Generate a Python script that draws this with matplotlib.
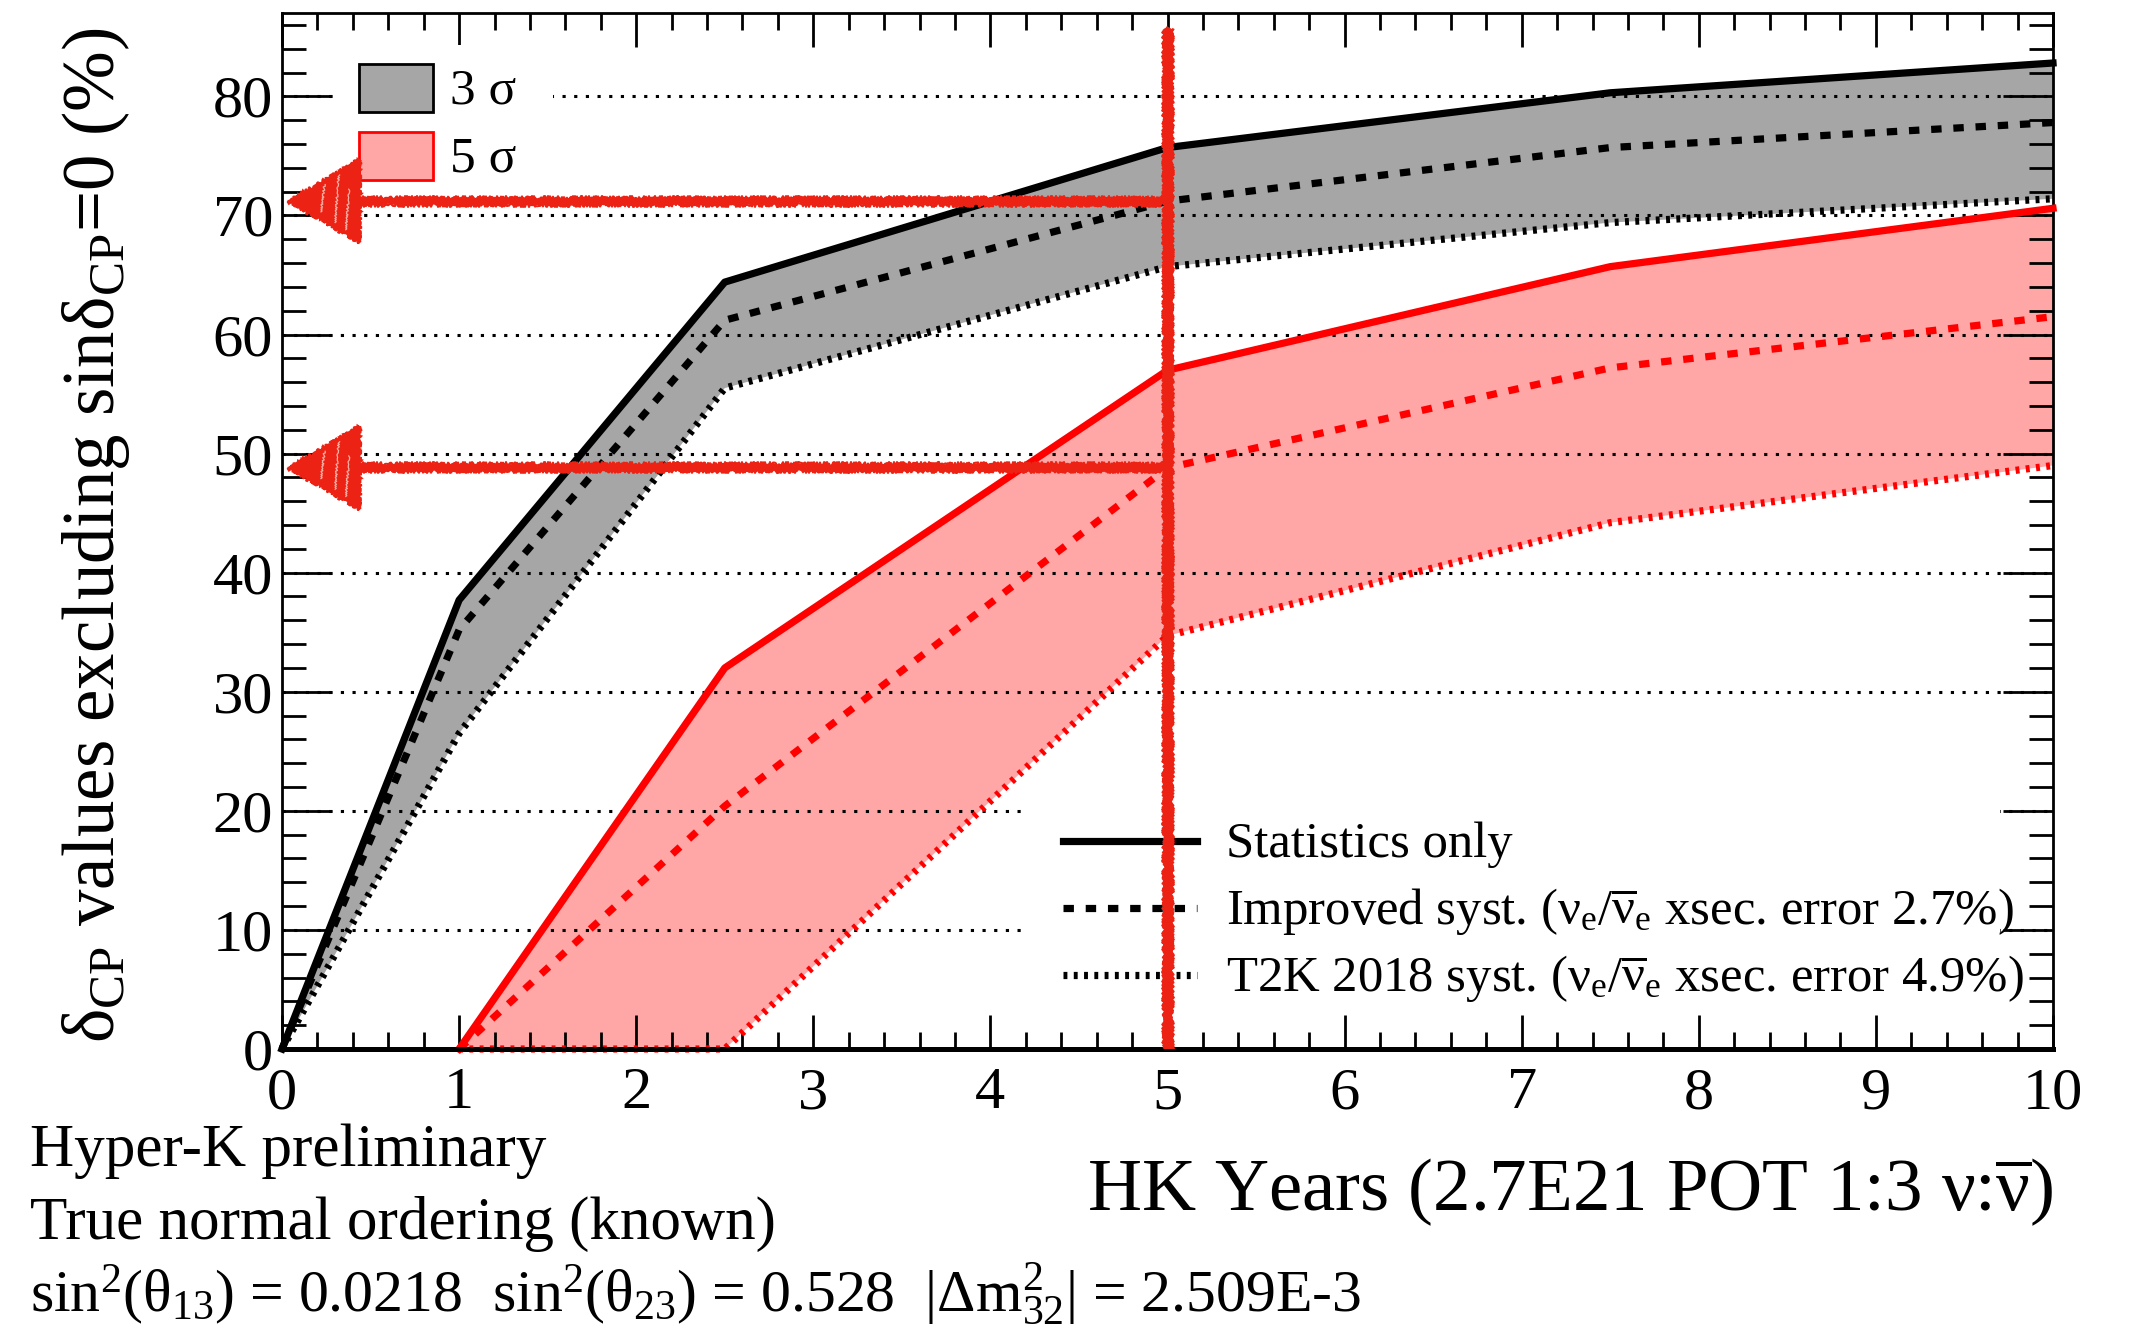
import matplotlib
matplotlib.use('Agg')
import matplotlib.pyplot as plt
from matplotlib.patches import Rectangle, Polygon
from matplotlib.ticker import MultipleLocator

plt.rcParams['font.family'] = ['Liberation Serif', 'DejaVu Serif']
plt.rcParams['mathtext.fontset'] = 'custom'
plt.rcParams['mathtext.rm'] = 'Liberation Serif'
plt.rcParams['mathtext.it'] = 'Liberation Serif:italic'
plt.rcParams['mathtext.bf'] = 'Liberation Serif:bold'
plt.rcParams['lines.scale_dashes'] = False

# HK running time (years) and fraction of dCP values excluding sin(dCP)=0 (%)
years = [0, 1, 2.5, 5, 7.5, 10]
stat_3s = [0, 37.7, 64.4, 75.7, 80.3, 82.8]
impr_3s = [0, 35.2, 61.2, 71.2, 75.7, 77.8]
t2k_3s = [0, 26.5, 55.5, 65.7, 69.4, 71.4]

# 5 sigma: nothing excluded during the first year
years_5s = [1, 2.5, 5, 7.5, 10]
stat_5s = [0, 32.0, 57.0, 65.7, 70.6]
impr_5s = [0, 20.4, 48.8, 57.2, 61.5]
t2k_5s = [0, 0, 34.7, 44.2, 49.0]

syst_labels = ['Statistics only',
               r'Improved syst. (ν$_{\mathrm{e}}$/$\overline{\mathrm{ν}}_{\mathrm{e}}$ xsec. error 2.7%)',
               r'T2K 2018 syst. (ν$_{\mathrm{e}}$/$\overline{\mathrm{ν}}_{\mathrm{e}}$ xsec. error 4.9%)']

FW, FH = 2137, 1331
AX_L, AX_R, AX_T, AX_B = 282, 2053, 13, 1049

GREY = '#a6a6a6'
PINK = '#ffa6a6'
ARROW = '#ec2214'
LW = 5.2
SOLID = '-'
DASHED = (0, (7.5, 8.5))
DOTTED = (0, (2.8, 4.6))


def to_ax(px, py):
    return (px - AX_L) / (AX_R - AX_L), (AX_B - py) / (AX_B - AX_T)


fig = plt.figure(figsize=(FW / 100, FH / 100), dpi=100)
ax = fig.add_axes([AX_L / FW, 1 - AX_B / FH, (AX_R - AX_L) / FW, (AX_B - AX_T) / FH])

# bands between stat-only and T2K-2018 systematics
ax.fill_between(years, t2k_3s, stat_3s, facecolor=GREY, lw=0, zorder=1)
ax.fill_between(years_5s, t2k_5s, stat_5s, facecolor=PINK, lw=0, zorder=1)

for xs, ys, col, ls in [(years, stat_3s, 'k', SOLID), (years, impr_3s, 'k', DASHED),
                        (years, t2k_3s, 'k', DOTTED), (years_5s, stat_5s, 'red', SOLID),
                        (years_5s, impr_5s, 'red', DASHED), (years_5s, t2k_5s, 'red', DOTTED)]:
    ax.plot(xs, ys, color=col, lw=LW, linestyle=ls, zorder=3, clip_on=False)

ax.set_xlim(0, 10)
ax.set_ylim(0, 87)
ax.xaxis.set_major_locator(MultipleLocator(1))
ax.xaxis.set_minor_locator(MultipleLocator(0.2))
ax.yaxis.set_major_locator(MultipleLocator(10))
ax.yaxis.set_minor_locator(MultipleLocator(2))
ax.set_axisbelow(False)
ax.grid(axis='y', which='major', color='k', lw=2.2, linestyle=(0, (2.3, 6.1)))

ax.tick_params(axis='x', which='major', length=24.5, width=2, direction='in', top=True, pad=13, labelsize=43.5)
ax.tick_params(axis='x', which='minor', length=12.2, width=2, direction='in', top=True)
ax.tick_params(axis='y', which='major', length=36, width=2, direction='in', right=True, pad=6.5, labelsize=43.5)
ax.tick_params(axis='y', which='minor', length=17.3, width=2, direction='in', right=True)
for side in ['top', 'left', 'right']:
    ax.spines[side].set_linewidth(2)
ax.spines['bottom'].set_linewidth(3.6)
ax.spines['bottom'].set_zorder(4)

# sigma legend (top left)
x0, y0 = to_ax(335, 195)
x1, y1 = to_ax(553, 45)
ax.add_patch(Rectangle((x0, y0), x1 - x0, y1 - y0, transform=ax.transAxes,
                       facecolor='white', edgecolor='none', zorder=2.6))
for top, fc, ec, lab in [(64, GREY, 'k', '3 σ'), (132, PINK, 'red', '5 σ')]:
    bx0, by0 = to_ax(359, top + 48)
    bx1, by1 = to_ax(433, top)
    ax.add_patch(Rectangle((bx0, by0), bx1 - bx0, by1 - by0, transform=ax.transAxes,
                           facecolor=fc, edgecolor=ec, lw=2, zorder=2.7))
    tx, ty = to_ax(450, top + 24 + 16)
    ax.text(tx, ty, lab, transform=ax.transAxes, fontsize=37, va='baseline', ha='left', zorder=2.7)

# systematics legend (bottom right)
x0, y0 = to_ax(1029, 1010)
x1, y1 = to_ax(2000, 775)
ax.add_patch(Rectangle((x0, y0), x1 - x0, y1 - y0, transform=ax.transAxes,
                       facecolor='white', edgecolor='none', zorder=2.6))
for row_y, ls, lab in zip([841, 908, 975], [SOLID, DASHED, DOTTED], syst_labels):
    lx0, ly = to_ax(1063, row_y)
    lx1, _ = to_ax(1197, row_y)
    ax.plot([lx0, lx1], [ly, ly], transform=ax.transAxes, color='k', lw=LW, linestyle=ls,
            zorder=2.7, clip_on=False)
    tx, ty = to_ax(1226, row_y + 16)
    ax.text(tx, ty, lab, transform=ax.transAxes, fontsize=36.5, va='baseline', ha='left', zorder=2.7)

# crayon-like marks at 5 years
i5 = years.index(5)
j5 = years_5s.index(5)
for dx, lw in [(0, 5.5), (0.018, 1.8), (-0.018, 1.8)]:
    l, = ax.plot([5 + dx, 5 + dx], [0, 85.7], color=ARROW, lw=lw, solid_capstyle='butt', zorder=6)
    l.set_sketch_params(2.2, 2, 2)

for y_arrow in (impr_3s[i5], impr_5s[j5]):
    for dy, lw in [(0.0, 4.0), (0.3, 1.5), (-0.3, 1.5), (0.12, 1.2)]:
        l, = ax.plot([0.42, 4.98], [y_arrow + dy] * 2, color=ARROW, lw=lw,
                     solid_capstyle='butt', zorder=6)
        l.set_sketch_params(2.0, 2, 2)
    head = Polygon([[0.036, y_arrow], [0.44, y_arrow + 3.5], [0.44, y_arrow - 3.5]],
                   closed=True, facecolor=ARROW, edgecolor=ARROW, lw=1.5, zorder=6)
    head.set_sketch_params(2.0, 2, 2)
    ax.add_patch(head)
    # light streaks inside the head
    for sx, sy0, sy1 in [(0.30, -1.8, 2.2), (0.36, -2.4, 1.0), (0.22, -0.9, 1.4)]:
        s, = ax.plot([sx, sx + 0.02], [y_arrow + sy0, y_arrow + sy1], color='#f7b0a6',
                     lw=0.9, zorder=6.1)
        s.set_sketch_params(1.0, 2, 2)

# axis titles
fig.text(2053 / FW, 1 - 1211 / FH, r'HK Years (2.7E21 POT 1:3 ν:$\overline{\mathrm{ν}}$)',
         fontsize=54, ha='right', va='baseline')
fig.text(114 / FW, 1 - 535 / FH,
         r'δ$_{\mathrm{CP}}$ values excluding sinδ$_{\mathrm{CP}}$=0 (%)',
         fontsize=52.5, rotation=90, rotation_mode='anchor', ha='center', va='baseline')

# analysis info
fig.text(30 / FW, 1 - 1166 / FH, 'Hyper-K preliminary', fontsize=44, va='baseline')
fig.text(30 / FW, 1 - 1239 / FH, 'True normal ordering (known)', fontsize=44, va='baseline')
fig.text(30 / FW, 1 - 1311 / FH,
         r'sin$^{2}$(θ$_{13}$) = 0.0218  sin$^{2}$(θ$_{23}$) = 0.528  |Δm$^{2}_{32}$| = 2.509E-3',
         fontsize=43, va='baseline')

fig.savefig('out.png', dpi=100)
